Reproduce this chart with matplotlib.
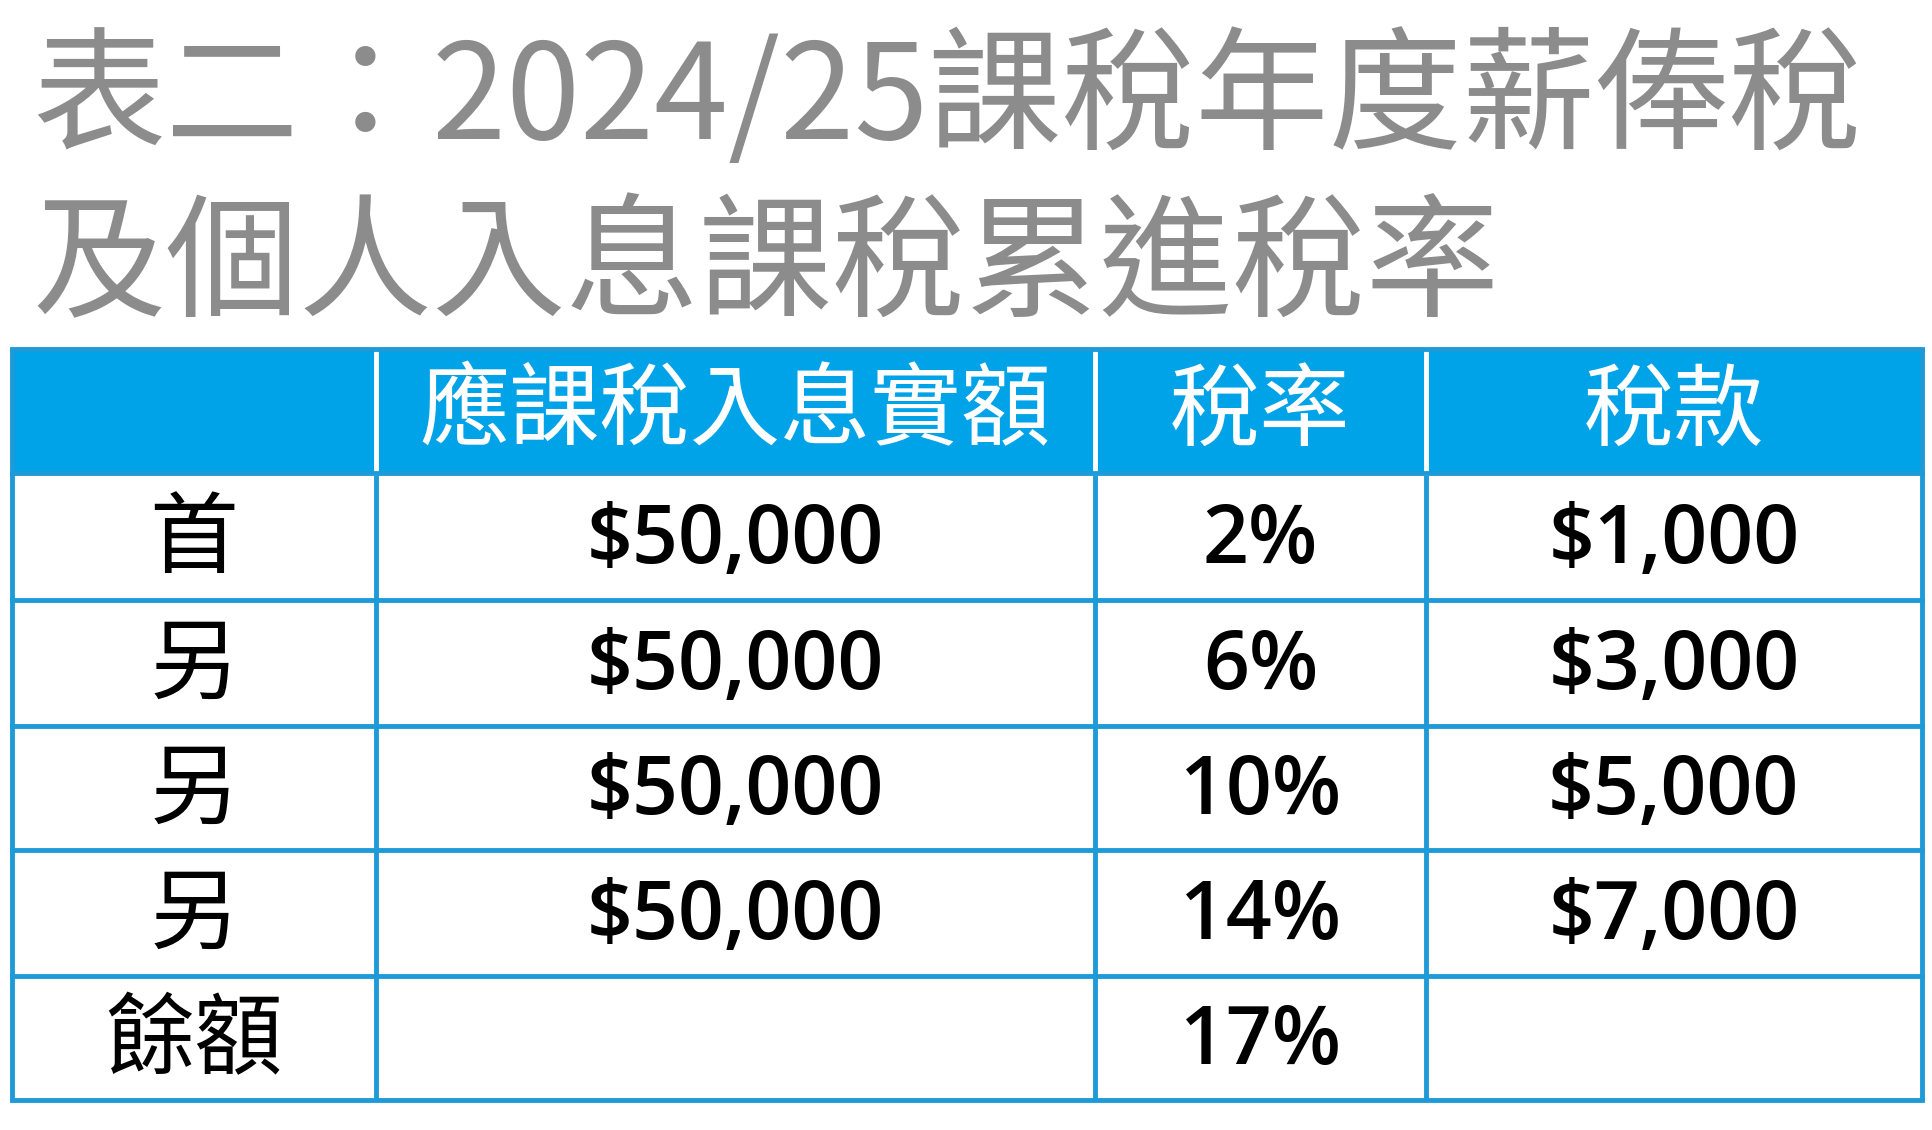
import matplotlib
matplotlib.use("Agg")
import matplotlib.pyplot as plt
from matplotlib.patches import Rectangle

title_lines = ["表二：2024/25課稅年度薪俸稅", "及個人入息課稅累進稅率"]
headers = ["", "應課稅入息實額", "稅率", "稅款"]
row_labels = ["首", "另", "另", "另", "餘額"]
income = ["$50,000", "$50,000", "$50,000", "$50,000", ""]
rates = ["2%", "6%", "10%", "14%", "17%"]
tax = ["$1,000", "$3,000", "$5,000", "$7,000", ""]

W, H = 1568, 917
fig = plt.figure(figsize=(19.32, 11.30), dpi=100)
ax = fig.add_axes([0, 0, 1, 1])
ax.set_xlim(0, W); ax.set_ylim(H, 0); ax.axis("off")
cjk = "Noto Sans CJK TC"
gray = "#8c8c8c"
blue = "#00a3e8"
line = "#1e9ad8"

ax.text(26, 82, title_lines[0], fontsize=96, fontweight="medium", color=gray, family=cjk, va="center", ha="left")
ax.text(26, 218, title_lines[1], fontsize=96, fontweight="medium", color=gray, family=cjk, va="center", ha="left")

xs = [10, 305, 889, 1157, 1560]
ys = [283, 384, 487, 589, 690, 792, 893]
ax.add_patch(Rectangle((xs[0], ys[0]), xs[-1]-xs[0], ys[1]-ys[0], color=blue, lw=0))
for x in xs:
    ax.plot([x, x], [ys[0], ys[-1]], color=line, lw=3.5, solid_capstyle="butt")
for x in xs[1:4]:
    ax.plot([x, x], [ys[0], ys[1]], color="white", lw=3.5)
for y in ys:
    ax.plot([xs[0], xs[-1]], [y, y], color=line, lw=3.5)

def cx(i):
    return (xs[i] + xs[i+1]) / 2

for i, h in enumerate(headers):
    if h:
        ax.text(cx(i), (ys[0]+ys[1])/2 + 2, h, fontsize=65, color="white", family=cjk, ha="center", va="center")
for r in range(len(row_labels)):
    yc = (ys[r+1] + ys[r+2]) / 2
    ax.text(cx(0), yc + 3, row_labels[r], fontsize=64, color="black", family=cjk, ha="center", va="center")
    for c, vals in ((1, income), (2, rates), (3, tax)):
        if vals[r]:
            ax.text(cx(c), yc + 4, vals[r], fontsize=58, fontweight="semibold", color="black",
                    family="Open Sans", ha="center", va="center")

fig.savefig("out.png", dpi=100, facecolor="white")
